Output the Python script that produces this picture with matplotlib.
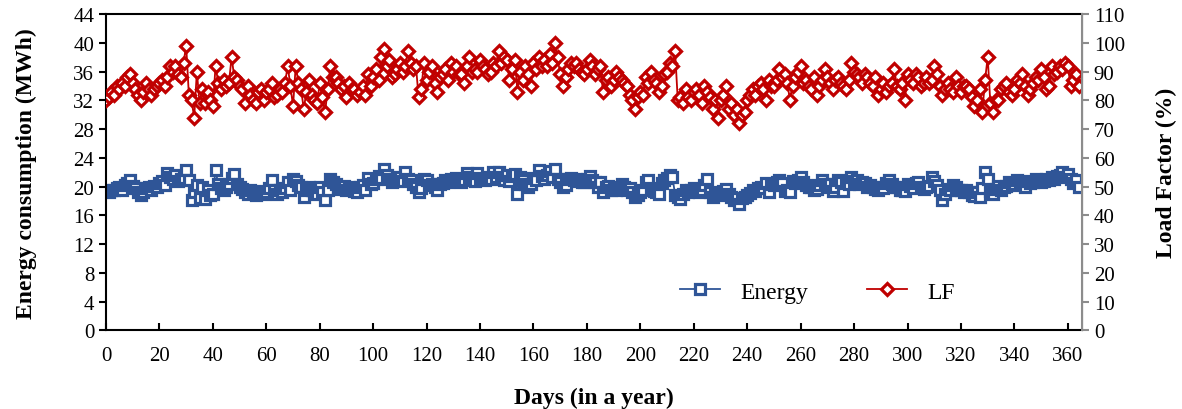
import numpy as np
import matplotlib
matplotlib.use("Agg")
import matplotlib.pyplot as plt

plt.rcParams['font.family'] = ['Liberation Serif', 'DejaVu Serif']

# daily load factor (%)
lf = [80, 81, 83, 82, 85, 84, 86, 85, 88, 89,
      86, 84, 82, 80, 83, 86, 84, 82, 84, 85,
      86, 87, 85, 88, 92, 90, 92, 89, 88, 93,
      99, 82, 80, 74, 90, 79, 84, 79, 83, 80,
      78, 92, 86, 84, 87, 85, 86, 95, 88, 87,
      85, 84, 79, 85, 82, 80, 79, 83, 84, 80,
      83, 84, 86, 81, 82, 84, 83, 86, 92, 85,
      78, 92, 86, 84, 77, 83, 87, 82, 80, 79,
      86, 81, 76, 84, 92, 88, 88, 86, 84, 85,
      81, 86, 84, 84, 82, 83, 85, 82, 89, 85,
      88, 91, 87, 95, 98, 92, 94, 88, 89, 91,
      93, 90, 92, 97, 93, 91, 92, 81, 84, 93,
      87, 90, 92, 86, 83, 88, 89, 91, 87, 93,
      90, 92, 89, 89, 86, 92, 95, 90, 91, 90,
      94, 92, 91, 89, 90, 93, 92, 97, 93, 95,
      94, 87, 91, 94, 83, 90, 87, 92, 89, 85,
      93, 91, 95, 92, 94, 92, 96, 93, 100, 95,
      89, 85, 88, 91, 93, 92, 93, 91, 90, 89,
      91, 94, 92, 89, 91, 92, 83, 87, 88, 85,
      87, 90, 88, 87, 86, 85, 82, 80, 77, 81,
      83, 82, 88, 86, 90, 87, 86, 83, 85, 89,
      90, 93, 92, 97, 80, 81, 79, 84, 81, 80,
      83, 84, 82, 79, 85, 83, 81, 77, 80, 74,
      80, 82, 85, 77, 79, 75, 77, 72, 75, 76,
      80, 82, 84, 82, 85, 86, 84, 80, 87, 85,
      85, 87, 91, 88, 89, 86, 80, 85, 88, 90,
      92, 86, 87, 85, 84, 88, 82, 85, 87, 91,
      88, 86, 84, 87, 88, 86, 85, 84, 87, 93,
      90, 89, 88, 86, 89, 88, 86, 85, 88, 82,
      84, 86, 83, 85, 86, 91, 85, 84, 86, 80,
      89, 87, 86, 89, 88, 85, 86, 88, 86, 87,
      92, 89, 85, 82, 84, 86, 84, 83, 88, 85,
      83, 85, 85, 84, 81, 78, 80, 84, 76, 87,
      95, 79, 76, 80, 80, 84, 85, 86, 83, 82,
      84, 87, 86, 89, 85, 82, 84, 86, 88, 87,
      91, 88, 84, 85, 92, 89, 90, 92, 91, 93,
      92, 85, 87, 89, 85]

# daily energy consumption (MWh)
energy = [19.4, 19.2, 19.6, 19.5, 19.8, 20.0, 19.6, 20.2, 20.5, 20.9,
          20.1, 19.8, 19.3, 18.8, 19.2, 19.8, 20.0, 19.5, 20.1, 20.0,
          20.5, 20.8, 20.2, 21.9, 21.3, 21.0, 21.6, 20.8, 21.1, 21.2,
          22.3, 20.9, 18.1, 19.3, 20.2, 18.4, 20.0, 18.3, 19.6, 18.8,
          19.0, 22.3, 20.3, 19.8, 19.6, 20.0, 20.4, 21.2, 21.7, 20.4,
          20.0, 19.7, 19.2, 19.0, 19.5, 19.1, 18.9, 19.2, 19.4, 19.0,
          19.3, 19.8, 20.9, 19.5, 19.0, 19.6, 19.3, 19.8, 20.6, 19.5,
          21.0, 20.8, 20.2, 19.9, 18.6, 19.5, 20.0, 19.6, 19.4, 19.0,
          20.0, 19.3, 18.1, 19.5, 21.0, 20.6, 20.3, 20.0, 19.7, 20.1,
          19.6, 20.0, 19.8, 19.4, 19.3, 19.9, 20.2, 19.6, 21.2, 20.3,
          20.5, 21.0, 21.5, 21.2, 22.4, 21.6, 21.0, 20.6, 21.0, 21.2,
          21.4, 20.8, 22.0, 21.1, 20.9, 20.4, 20.0, 19.3, 19.8, 21.0,
          20.9, 20.2, 20.4, 20.0, 19.6, 20.3, 20.5, 20.9, 20.6, 21.0,
          20.8, 21.2, 20.9, 20.6, 20.9, 21.9, 21.3, 21.0, 20.8, 21.9,
          21.2, 21.0, 20.9, 21.4, 21.0, 22.0, 21.4, 22.1, 21.3, 20.9,
          21.6, 20.8, 21.5, 21.8, 19.0, 21.4, 20.9, 20.3, 20.0, 20.4,
          21.2, 20.9, 22.3, 21.5, 21.0, 21.6, 22.2, 21.3, 22.4, 21.0,
          20.6, 20.0, 20.2, 21.0, 21.2, 20.9, 21.1, 20.8, 20.7, 20.6,
          21.1, 21.5, 20.9, 20.6, 20.0, 20.7, 19.3, 20.0, 20.1, 19.6,
          19.8, 19.5, 20.0, 20.3, 19.9, 19.6, 19.8, 19.2, 18.6, 18.8,
          19.3, 19.5, 20.6, 20.9, 19.8, 19.4, 19.2, 19.0, 20.5, 20.9,
          21.2, 21.6, 21.3, 18.9, 18.5, 18.3, 19.0, 19.5, 19.3, 19.6,
          19.8, 19.4, 19.2, 19.5, 20.2, 21.0, 19.2, 18.6, 19.0, 18.8,
          19.1, 19.4, 19.7, 19.0, 18.6, 18.2, 18.4, 17.6, 18.4, 18.5,
          18.9, 19.1, 19.6, 19.4, 19.8, 20.0, 19.8, 20.5, 19.3, 20.3,
          20.2, 20.6, 20.9, 20.5, 19.4, 19.5, 19.3, 20.8, 20.5, 20.9,
          21.4, 20.6, 20.2, 19.9, 20.0, 19.5, 19.7, 20.2, 20.9, 20.4,
          20.0, 20.3, 19.4, 20.0, 20.9, 20.6, 19.4, 20.5, 20.4, 21.4,
          20.8, 20.9, 20.4, 20.6, 20.5, 20.0, 20.2, 19.9, 19.7, 19.5,
          20.0, 19.8, 20.5, 20.9, 20.4, 19.9, 20.0, 19.6, 19.5, 19.4,
          20.3, 20.1, 19.8, 20.5, 20.6, 20.0, 19.7, 20.0, 20.1, 21.4,
          20.8, 20.2, 19.5, 18.1, 19.0, 19.7, 19.5, 20.2, 20.0, 19.6,
          19.5, 19.2, 19.6, 19.2, 18.9, 18.7, 19.3, 18.6, 19.8, 22.0,
          21.0, 19.4, 19.0, 19.7, 20.1, 19.5, 20.0, 20.1, 20.6, 20.2,
          20.4, 20.9, 20.7, 20.4, 20.0, 20.8, 20.5, 20.7, 21.0, 20.8,
          20.6, 20.8, 21.0, 20.9, 21.3, 21.1, 21.5, 21.6, 22.0, 21.4,
          21.8, 21.0, 20.5, 20.9, 20.0]

days = np.arange(len(energy))

blue = '#2F5597'
red = '#C00000'
grey = '#8c8c8c'

fig, ax = plt.subplots(figsize=(11.82, 4.10), dpi=100)
fig.subplots_adjust(left=0.0897, right=0.9154, top=0.9634, bottom=0.1915)
ax2 = ax.twinx()

l1, = ax.plot(days, energy, color=blue, lw=1.3, marker='s', ms=7.4,
              mfc='white', mec=blue, mew=2.3, label='Energy')
l2, = ax2.plot(days, lf, color=red, lw=1.3, marker='D', ms=6.5,
               mfc='white', mec=red, mew=2.3, label='LF')

ax.set_xlim(0, 365.3)
ax.set_ylim(0, 44)
ax2.set_ylim(0, 110)
ax.set_xticks(np.arange(0, 361, 20))
ax.set_yticks(np.arange(0, 45, 4))
ax2.set_yticks(np.arange(0, 111, 10))

for s in ('left', 'bottom', 'top'):
    ax.spines[s].set_linewidth(1.5)
ax.tick_params(axis='y', labelsize=15, direction='out', length=5, width=1.5)
ax.tick_params(axis='x', labelsize=15, direction='in', length=5, width=1.5, pad=11)
ax2.spines['right'].set_color(grey)
ax2.spines['right'].set_linewidth(1.5)
for s in ('left', 'bottom', 'top'):
    ax2.spines[s].set_visible(False)
ax2.tick_params(axis='y', labelsize=15, direction='out', length=5, width=1.5,
                color=grey)

ax.set_xlabel('Days (in a year)', fontsize=17, fontweight='bold', labelpad=16)
ax.set_ylabel('Energy consumption (MWh)', fontsize=17, fontweight='bold', labelpad=26)
ax2.set_ylabel('Load Factor (%)', fontsize=17, fontweight='bold', labelpad=22)

ax2.legend([l1, l2], ['Energy', 'LF'], loc='center left',
           bbox_to_anchor=(0.588, 0.122), ncol=2, frameon=False,
           fontsize=17, handlelength=1.7, handletextpad=0.85,
           columnspacing=2.5, borderpad=0, borderaxespad=0)

fig.savefig('out.png', dpi=100)
